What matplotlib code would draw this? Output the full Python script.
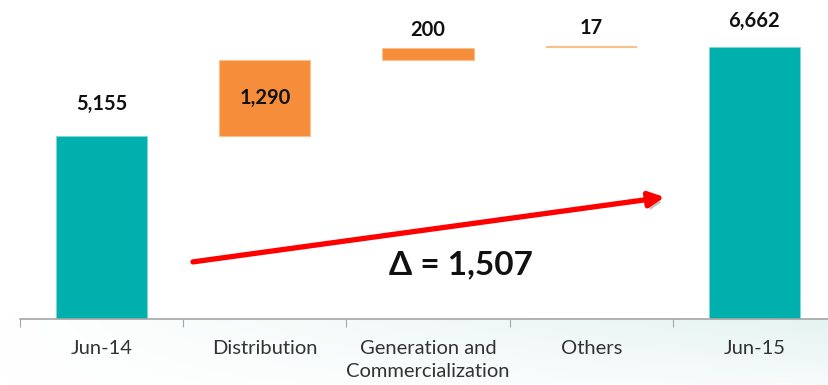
import numpy as np
import matplotlib.pyplot as plt
import matplotlib.patheffects as pe

plt.rcParams['font.family'] = ['Lato', 'DejaVu Sans']

# waterfall data
categories = ['Jun-14', 'Distribution', 'Generation and\nCommercialization', 'Others', 'Jun-15']
start_value = 5155
deltas = [1290, 200, 17]
end_value = 6662
total_change = 1507

teal = '#00B0AD'
orange = '#F58D3A'
orange_edge = '#F9C08A'

fig = plt.figure(figsize=(8.29, 3.85), dpi=100)

# faint tinted band under the axis
bg = fig.add_axes([0, 0, 1, 0.175], zorder=0)
grad = np.linspace(0, 1, 200)[None, :] * np.linspace(0.3, 1, 50)[:, None]
bg.imshow(grad, aspect='auto', cmap=plt.matplotlib.colors.LinearSegmentedColormap.from_list(
    'tint', ['#FFFFFF', '#E4F3F1']), origin='lower', extent=[0, 1, 0, 1])
bg.axis('off')

ax = fig.add_axes([20 / 829, 1 - 319 / 385, 816 / 829, 319 / 385], zorder=1)
ax.patch.set_alpha(0)

x = np.arange(len(categories))
w = 0.56

# totals
ax.bar(x[0], start_value, width=w, color=teal, edgecolor='#7FD6D3', linewidth=0.6)
ax.bar(x[-1], end_value, width=w, color=teal, edgecolor='#7FD6D3', linewidth=0.6)

# floating increments
bottoms = start_value + np.concatenate([[0], np.cumsum(deltas)[:-1]])
for i, (d, b) in enumerate(zip(deltas, bottoms)):
    if d < 50:
        ax.hlines(b + d, x[i + 1] - w / 2, x[i + 1] + w / 2, color=orange_edge, lw=1.5)
    else:
        ax.bar(x[i + 1], d, bottom=b, width=w, color=orange, edgecolor=orange_edge, linewidth=0.8)

lab = dict(ha='center', fontsize=14.5, fontweight='bold', color='#111111')
ax.text(x[0], start_value + 370, f'{start_value:,}', va='bottom', **lab)
ax.text(x[1], bottoms[0] + deltas[0] / 2, f'{deltas[0]:,}', va='center', **lab)
ax.text(x[2], bottoms[1] + deltas[1] + 140, f'{deltas[1]:,}', va='bottom', **lab)
ax.text(x[3], bottoms[2] + deltas[2] + 150, f'{deltas[2]:,}', va='bottom', **lab)
ax.text(x[4], end_value + 270, f'{end_value:,}', va='bottom', **lab)

# overall change arrow
arr = ax.annotate('', xy=(0.790, 0.382), xytext=(0.212, 0.179), xycoords='axes fraction',
                  arrowprops=dict(arrowstyle='-|>,head_length=0.9,head_width=0.45',
                                  color='#FF0000', lw=3.8, shrinkA=0, shrinkB=0))
arr.arrow_patch.set_path_effects([pe.SimplePatchShadow(offset=(2, -3), shadow_rgbFace='#888888', alpha=0.5),
                                  pe.Normal()])
ax.text(0.540, 0.169, f'Δ = {total_change:,}', transform=ax.transAxes, ha='center', va='center',
        fontsize=24, fontweight='bold', color='#111111')

ax.set_xlim(-0.5, 4.5)
ax.set_ylim(2056, 7457)
ax.set_xticks(np.arange(-0.5, 5, 1))
ax.set_xticklabels([])
ax.set_xticks(x, minor=True)
ax.set_xticklabels(categories, minor=True, fontsize=14.5, color='#333333', va='top', linespacing=1.45)
ax.tick_params(axis='x', which='major', length=6, color='#A6A6A6', direction='out')
ax.tick_params(axis='x', which='minor', length=0, pad=15)
ax.set_yticks([])
for s in ['top', 'right', 'left']:
    ax.spines[s].set_visible(False)
ax.spines['bottom'].set_color('#A6A6A6')
ax.spines['bottom'].set_linewidth(1.2)

fig.savefig('out.png', dpi=100)
